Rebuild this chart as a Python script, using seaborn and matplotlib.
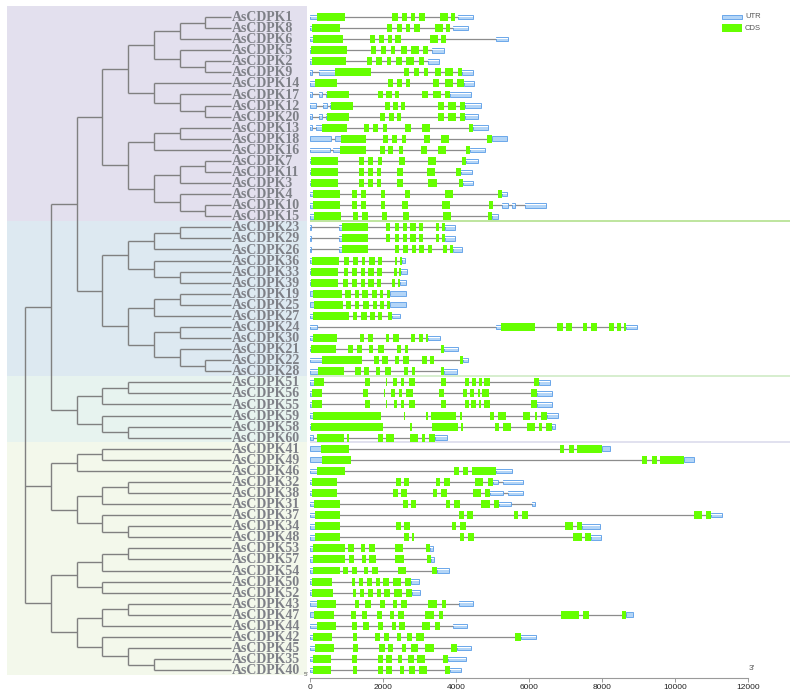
import matplotlib
matplotlib.use('Agg')
import matplotlib.pyplot as plt
import seaborn as sns
import numpy as np
from matplotlib.patches import Rectangle

sns.set_theme(style='white')
plt.rcParams['font.family'] = ['Liberation Sans', 'DejaVu Sans']

# ---------------- data ----------------
clade_purple = (((((1, 8), 6), (5, (2, 9))), (14, (17, (12, 20)))),
                (((13, 18), 16), (((7, 11), 3), (4, (10, 15)))))
clade_blue = ((((23, 29), 26), (36, (33, 39))),
              (((19, 25), 27), ((24, 30), (21, (22, 28)))))
clade_mint = (((51, 56), 55), (59, (58, 60)))
clade_y1 = (((41, 49), 46), (((32, 38), 31), (37, (34, 48))))
clade_y2 = ((((53, 57), 54), (50, 52)), (((43, 47), 44), (42, (45, (35, 40)))))
tree = (((clade_purple, clade_blue), clade_mint), clade_y1, clade_y2)

utr = {
    1: [(0, 180), (4060, 4454)], 8: [(0, 55), (3915, 4317)], 6: [(0, 73), (5093, 5430)],
    5: [(0, 36), (3340, 3660)], 2: [(0, 55), (3231, 3523)], 9: [(0, 45), (237, 693), (4171, 4454)],
    14: [(0, 146), (4207, 4481)], 17: [(0, 45), (237, 328), (429, 474), (3824, 4399)],
    12: [(0, 164), (356, 456), (538, 584), (4235, 4673)],
    20: [(0, 45), (237, 338), (429, 474), (4244, 4591)],
    13: [(0, 45), (164, 328), (4472, 4864)], 18: [(0, 566), (675, 849), (4983, 5385)],
    16: [(0, 548), (639, 821), (4381, 4791)], 7: [(0, 36), (4280, 4591)],
    11: [(0, 36), (4125, 4426)], 3: [(0, 36), (4198, 4454)], 4: [(0, 91), (5257, 5385)],
    10: [(0, 73), (5266, 5412), (5540, 5622), (5896, 6453)], 15: [(0, 118), (4983, 5138)],
    23: [(0, 27), (794, 867), (3705, 3961)], 29: [(0, 27), (794, 867), (3705, 3961)],
    26: [(0, 27), (794, 867), (3924, 4171)], 36: [(0, 45), (2528, 2610)],
    33: [(0, 27), (2500, 2665)], 39: [(0, 27), (2455, 2628)], 19: [(0, 91), (2190, 2619)],
    25: [(0, 109), (2190, 2619)], 27: [(0, 91), (2245, 2455)],
    24: [(0, 182), (5084, 5230), (8643, 8944)], 30: [(0, 91), (3231, 3550)],
    21: [(0, 27), (3678, 4043)], 22: [(0, 328), (4189, 4326)], 28: [(0, 228), (3660, 4016)],
    51: [(0, 118), (6279, 6571)], 56: [(0, 55), (6224, 6617)], 55: [(0, 55), (6215, 6617)],
    59: [(0, 91), (6489, 6781)], 58: [(0, 27), (6626, 6699)], 60: [(0, 91), (3422, 3742)],
    41: [(0, 301), (7986, 8214)], 49: [(0, 328), (10249, 10523)], 46: [(0, 192), (5102, 5531)],
    32: [(0, 55), (5001, 5147), (5293, 5823)], 38: [(0, 55), (4937, 5275), (5421, 5841)],
    31: [(0, 118), (5175, 5494), (6069, 6151)], 37: [(0, 146), (10979, 11271)],
    34: [(0, 146), (7447, 7931)], 48: [(0, 146), (7685, 7977)], 53: [(0, 91), (3286, 3377)],
    57: [(0, 91), (3304, 3395)], 54: [(0, 91), (3468, 3797)], 50: [(0, 45), (2774, 2975)],
    52: [(0, 64), (2802, 3003)], 43: [(0, 182), (4089, 4454)], 47: [(0, 118), (8661, 8853)],
    44: [(0, 182), (3915, 4290)], 42: [(0, 91), (5768, 6179)], 45: [(0, 137), (4015, 4399)],
    35: [(0, 91), (3787, 4262)], 40: [(0, 91), (3842, 4134)],
}

cds = {
    1: [(180, 967), (2254, 2400), (2510, 2665), (2765, 2884), (2984, 3149), (3560, 3770), (3860, 3980)],
    8: [(55, 830), (2117, 2254), (2373, 2519), (2628, 2738), (2848, 3012), (3422, 3632), (3724, 3842)],
    6: [(73, 912), (1634, 1780), (1880, 2026), (2135, 2245), (2336, 2500), (3276, 3495), (3587, 3715)],
    5: [(36, 1004), (1670, 1807), (1935, 2081), (2218, 2327), (2492, 2656), (2756, 2984), (3094, 3222)],
    2: [(55, 986), (1551, 1688), (1816, 1962), (2099, 2218), (2355, 2519), (2619, 2838), (2975, 3112)],
    9: [(693, 1670), (2574, 2720), (2838, 2984), (3121, 3231), (3413, 3578), (3696, 3915), (4043, 4171)],
    14: [(146, 748), (2135, 2272), (2382, 2528), (2628, 2729), (3367, 3532), (3705, 3924), (4025, 4207)],
    17: [(474, 1059), (1862, 1999), (2090, 2236), (2327, 2437), (3076, 3240), (3358, 3587), (3696, 3824)],
    12: [(584, 1177), (2053, 2190), (2272, 2409), (2500, 2610), (3504, 3669), (3778, 3998), (4107, 4235)],
    20: [(474, 1068), (1926, 2063), (2154, 2300), (2382, 2491), (3514, 3669), (3778, 3988), (4116, 4244)],
    13: [(328, 1022), (1487, 1624), (1716, 1853), (2008, 2117), (2610, 2765), (3076, 3276), (4362, 4472)],
    18: [(849, 1533), (1999, 2135), (2236, 2382), (2519, 2628), (3121, 3276), (3587, 3796), (4855, 4983)],
    16: [(821, 1524), (1907, 2053), (2135, 2281), (2437, 2537), (3030, 3194), (3495, 3714), (4271, 4381)],
    7: [(36, 767), (1350, 1487), (1588, 1725), (1862, 1971), (2437, 2601), (3240, 3459), (4162, 4280)],
    11: [(36, 767), (1341, 1478), (1579, 1716), (1834, 1944), (2391, 2555), (3203, 3422), (3997, 4125)],
    3: [(36, 767), (1341, 1478), (1579, 1716), (1834, 1944), (2382, 2546), (3240, 3468), (4080, 4198)],
    4: [(91, 812), (1150, 1287), (1396, 1542), (1953, 2063), (2592, 2747), (3705, 3924), (5157, 5257)],
    10: [(73, 812), (1150, 1287), (1396, 1542), (1953, 2063), (2519, 2683), (3614, 3824), (4901, 5001)],
    15: [(118, 858), (1186, 1323), (1433, 1579), (1980, 2099), (2555, 2720), (3632, 3851), (4874, 4983)],
    23: [(867, 1579), (2081, 2200), (2327, 2446), (2546, 2656), (2747, 2893), (2993, 3103), (3441, 3541), (3623, 3705)],
    29: [(867, 1579), (2081, 2200), (2327, 2446), (2546, 2656), (2747, 2893), (2993, 3103), (3441, 3541), (3623, 3705)],
    26: [(867, 1579), (2318, 2437), (2555, 2692), (2784, 2893), (2975, 3112), (3231, 3340), (3651, 3751), (3842, 3924)],
    36: [(45, 785), (940, 1059), (1177, 1305), (1414, 1515), (1615, 1770), (1862, 1980), (2318, 2391), (2473, 2528)],
    33: [(27, 767), (931, 1049), (1159, 1296), (1396, 1506), (1597, 1752), (1843, 1962), (2291, 2373), (2446, 2500)],
    39: [(27, 767), (913, 1040), (1141, 1278), (1387, 1497), (1588, 1743), (1834, 1953), (2245, 2318), (2400, 2455)],
    19: [(91, 876), (958, 1113), (1223, 1332), (1433, 1579), (1698, 1825), (1907, 2008), (2099, 2190)],
    25: [(109, 903), (985, 1132), (1241, 1351), (1451, 1615), (1716, 1834), (1926, 2026), (2117, 2190)],
    27: [(91, 1077), (1177, 1296), (1396, 1551), (1643, 1770), (1871, 1971), (2135, 2245)],
    24: [(5230, 6161), (6763, 6919), (7000, 7165), (7475, 7593), (7684, 7849), (8196, 8324), (8406, 8506), (8597, 8643)],
    30: [(91, 739), (1360, 1478), (1588, 1734), (2072, 2172), (2272, 2437), (2774, 2884), (2993, 3085), (3176, 3231)],
    21: [(27, 712), (1040, 1168), (1287, 1424), (1615, 1725), (1852, 2017), (2373, 2482), (2592, 2683), (3596, 3678)],
    22: [(328, 1424), (1743, 1880), (1980, 2126), (2327, 2437), (2555, 2720), (3067, 3194), (3286, 3386), (4107, 4189)],
    28: [(228, 922), (1241, 1387), (1478, 1615), (1807, 1926), (2053, 2218), (2574, 2674), (2793, 2884), (3578, 3660)],
    51: [(118, 383), (1505, 1633), (2072, 2108), (2282, 2382), (2482, 2564), (2701, 2866), (3596, 3714),
         (4253, 4362), (4426, 4545), (4627, 4700), (4764, 4937), (6133, 6279)],
    56: [(55, 328), (1460, 1579), (2017, 2063), (2218, 2327), (2437, 2519), (2637, 2811), (3541, 3669),
         (4189, 4299), (4381, 4490), (4591, 4655), (4718, 4892), (6060, 6224)],
    55: [(55, 328), (1515, 1643), (2081, 2117), (2291, 2391), (2491, 2574), (2710, 2875), (3596, 3714),
         (4253, 4362), (4417, 4536), (4627, 4691), (4764, 4937), (6051, 6215)],
    59: [(91, 1944), (2564, 2601), (3185, 3231), (3313, 4007), (4116, 4162), (4938, 5038), (5147, 5367),
         (5823, 6024), (6151, 6215), (6315, 6489)],
    58: [(27, 1999), (2738, 2784), (3340, 4052), (4134, 4189), (5074, 5184), (5293, 5513), (5951, 6160),
         (6279, 6352), (6453, 6626)],
    60: [(201, 922), (1013, 1068), (1871, 1989), (2080, 2309), (2747, 2948), (3076, 3149), (3249, 3422)],
    41: [(301, 1077), (6836, 6955), (7082, 7219), (7319, 7986)],
    49: [(328, 1113), (9099, 9236), (9355, 9501), (9583, 10249)],
    46: [(192, 958), (3943, 4080), (4189, 4335), (4426, 5102)],
    32: [(55, 739), (2345, 2482), (2574, 2711), (3459, 3559), (3669, 3833), (4527, 4746), (4864, 5001)],
    38: [(55, 730), (2282, 2418), (2500, 2647), (3359, 3486), (3587, 3751), (4472, 4691), (4800, 4937)],
    31: [(118, 812), (2546, 2692), (2756, 2902), (3724, 3833), (3943, 4107), (4691, 4919), (5029, 5175)],
    37: [(146, 821), (4080, 4217), (4308, 4454), (5576, 5695), (5805, 5978), (10523, 10742), (10833, 10979)],
    34: [(146, 821), (2355, 2491), (2582, 2729), (3879, 3988), (4098, 4262), (6982, 7210), (7310, 7447)],
    48: [(146, 821), (2574, 2711), (2802, 2856), (4107, 4216), (4326, 4490), (7210, 7438), (7529, 7685)],
    53: [(91, 949), (1049, 1195), (1396, 1506), (1606, 1780), (2327, 2546), (3176, 3286)],
    57: [(91, 958), (1068, 1214), (1424, 1524), (1624, 1798), (2336, 2564), (3194, 3304)],
    54: [(91, 812), (903, 1031), (1150, 1296), (1487, 1597), (1707, 1862), (2409, 2637), (3349, 3468)],
    50: [(45, 602), (1141, 1241), (1332, 1460), (1551, 1688), (1798, 1907), (2008, 2172), (2263, 2501), (2592, 2774)],
    52: [(64, 630), (1168, 1268), (1360, 1487), (1579, 1716), (1825, 1935), (2035, 2190), (2291, 2519), (2619, 2802)],
    43: [(182, 712), (1223, 1341), (1515, 1661), (1916, 2053), (2282, 2382), (2492, 2646), (3240, 3468), (3605, 3724)],
    47: [(118, 648), (1132, 1250), (1424, 1570), (1825, 1962), (2200, 2300), (2400, 2564), (3158, 3386),
         (3523, 3651), (6872, 7365), (7475, 7630), (8543, 8661)],
    44: [(182, 721), (1159, 1287), (1460, 1606), (1853, 1999), (2236, 2345), (2446, 2610), (3076, 3295), (3432, 3550)],
    42: [(91, 611), (1168, 1296), (1789, 1917), (2017, 2163), (2382, 2500), (2647, 2802), (2902, 3130), (5613, 5768)],
    45: [(137, 648), (1186, 1323), (1898, 2053), (2126, 2281), (2509, 2628), (2756, 2948), (3148, 3386), (3869, 4015)],
    35: [(91, 575), (1159, 1287), (1852, 1998), (2080, 2236), (2400, 2519), (2674, 2847), (2929, 3157), (3641, 3787)],
    40: [(91, 575), (1168, 1296), (1862, 1998), (2080, 2236), (2455, 2574), (2720, 2884), (2975, 3203), (3696, 3842)],
}

x_ticks = [0, 2000, 4000, 6000, 8000, 10000, 12000]
legend_labels = ['UTR', 'CDS']

# ---------------- style ----------------
W, H = 796, 696
AX_TOP_PX, AX_BOT_PX = 0, 678
ROW0_PX, ROW_PX = 17.0, 11.07
TREE_RIGHT_PX = 310
GENE_RIGHT_PX = 790
BP_PER_PX = 12000 / 438.3
ROOT_X, STEP = 25.0, 25.75
TIP_LEVEL = 8
TIP_X = ROOT_X + TIP_LEVEL * STEP

tree_color = '#808080'
label_color = '#7e8087'
intron_color = '#8c8c8c'
cds_color = '#66ff00'
utr_face, utr_edge = '#b3d5f7', '#5a9de8'
band_colors = ['#e3e0ee', '#dde9f1', '#e7f3ef', '#f3f8eb']
line_colors = ['#b3e08e', '#d0ebc6', '#dcdcec']

def px2row(py):
    return (py - ROW0_PX) / ROW_PX

ylim = (px2row(AX_BOT_PX), px2row(AX_TOP_PX))

fig = plt.figure(figsize=(W / 100, H / 100), dpi=100)
fig.patch.set_facecolor('white')
bottom = (H - AX_BOT_PX) / H
height = (AX_BOT_PX - AX_TOP_PX) / H
ax_t = fig.add_axes([0, bottom, TREE_RIGHT_PX / W, height])
ax_g = fig.add_axes([TREE_RIGHT_PX / W, bottom, (GENE_RIGHT_PX - TREE_RIGHT_PX) / W, height])
for a in (ax_t, ax_g):
    a.set_ylim(ylim)
    a.set_facecolor('none')
ax_t.set_xlim(0, TREE_RIGHT_PX)
ax_t.axis('off')

# ---------------- tree layout ----------------
leaves = []
vsegs, hsegs = [], []

def layout(node, depth):
    if isinstance(node, int):
        leaves.append(node)
        return float(len(leaves) - 1)
    ys = [layout(c, depth + 1) for c in node]
    x = ROOT_X + depth * STEP
    vsegs.append((x, min(ys), max(ys)))
    for c, cy in zip(node, ys):
        cx = TIP_X if isinstance(c, int) else ROOT_X + (depth + 1) * STEP
        hsegs.append((cy, x, cx))
    return (min(ys) + max(ys)) / 2

layout(tree, 0)

def count(n):
    return 1 if isinstance(n, int) else sum(count(c) for c in n)
sizes = [count(clade_purple), count(clade_blue), count(clade_mint), count(clade_y1) + count(clade_y2)]
edges = [px2row(6)]
cum = 0
for s in sizes[:-1]:
    cum += s
    edges.append(cum - 0.6)
edges.append(px2row(675))
for i, col in enumerate(band_colors):
    ax_t.add_patch(Rectangle((7, edges[i]), 300, edges[i + 1] - edges[i],
                             facecolor=col, edgecolor='none', zorder=0))

ax_t.vlines([v[0] for v in vsegs], [v[1] for v in vsegs], [v[2] for v in vsegs],
            color=tree_color, lw=1.0, zorder=2)
ax_t.hlines([h[0] for h in hsegs], [h[1] for h in hsegs], [h[2] for h in hsegs],
            color=tree_color, lw=1.0, zorder=2)

for i, g in enumerate(leaves):
    ax_t.text(TIP_X + 1, i + 0.05, f'AsCDPK{g}', fontsize=10, fontweight='bold',
              family=['Liberation Serif', 'DejaVu Serif'], color=label_color,
              va='center', ha='left', zorder=3)

# ---------------- gene structures ----------------
ax_g.set_xlim(0, (GENE_RIGHT_PX - TREE_RIGHT_PX) * BP_PER_PX)
for j, col in enumerate(line_colors):
    ax_g.axhline(edges[j + 1], color=col, lw=1.2, zorder=0)

for i, g in enumerate(leaves):
    feats = utr[g] + cds[g]
    end = max(e for _, e in feats)
    ax_g.hlines(i, 0, end, color=intron_color, lw=0.9, zorder=1)
    us = utr[g]
    ax_g.barh([i] * len(us), [e - s for s, e in us], left=[s for s, e in us], height=0.42,
              color=utr_face, edgecolor=utr_edge, linewidth=0.6, zorder=2)
    ax_g.barh([i - 0.07] * len(us), [e - s for s, e in us], left=[s for s, e in us], height=0.08,
              color='white', edgecolor='none', zorder=3)
    cs = cds[g]
    ax_g.barh([i] * len(cs), [e - s for s, e in cs], left=[s for s, e in cs], height=0.72,
              color=cds_color, edgecolor='none', zorder=4)

for side in ['top', 'right', 'left']:
    ax_g.spines[side].set_visible(False)
ax_g.spines['bottom'].set_bounds(0, 12000)
ax_g.spines['bottom'].set_color('#9a9a9a')
ax_g.spines['bottom'].set_linewidth(0.8)
ax_g.set_yticks([])
ax_g.set_xticks(x_ticks)
ax_g.set_xticklabels([str(t) for t in x_ticks])
ax_g.tick_params(axis='x', direction='out', length=3, width=0.7, color='#9a9a9a',
                 labelsize=6, pad=1.5, labelcolor='#222222', bottom=True)
ax_g.grid(False)

# legend
lx0, lw_ = (722 - TREE_RIGHT_PX) / (GENE_RIGHT_PX - TREE_RIGHT_PX), 20 / (GENE_RIGHT_PX - TREE_RIGHT_PX)
ax_g.add_patch(Rectangle((lx0, 1 - 18.5 / AX_BOT_PX), lw_, 4 / AX_BOT_PX, transform=ax_g.transAxes,
                         facecolor=utr_face, edgecolor=utr_edge, lw=0.6, clip_on=False))
ax_g.add_patch(Rectangle((lx0, 1 - 32 / AX_BOT_PX), lw_, 8 / AX_BOT_PX, transform=ax_g.transAxes,
                         facecolor=cds_color, edgecolor='none', clip_on=False))
ax_g.text(lx0 + lw_ + 3 / 480, 1 - 16.5 / AX_BOT_PX, legend_labels[0], transform=ax_g.transAxes,
          fontsize=5.5, color='#555555', va='center', ha='left')
ax_g.text(lx0 + lw_ + 3 / 480, 1 - 28 / AX_BOT_PX, legend_labels[1], transform=ax_g.transAxes,
          fontsize=5.5, color='#555555', va='center', ha='left')

fig.text(306 / W, 1 - 675 / H, "5'", fontsize=4.5, color='#555555', ha='center', va='center')
fig.text(752 / W, 1 - 669 / H, "3'", fontsize=6, color='#555555', ha='center', va='center')

fig.savefig('out.png', dpi=100, facecolor='white')
